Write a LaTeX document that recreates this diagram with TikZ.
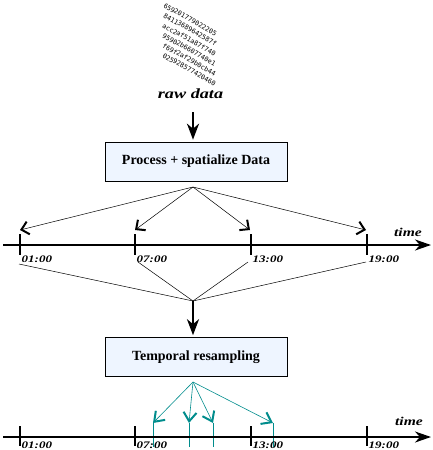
\documentclass[tikz,border=0pt]{standalone}
\usepackage{fontspec}
\setmainfont{Liberation Serif}
\newfontfamily\digitfont{DejaVu Sans Mono}
\usetikzlibrary{arrows.meta}
\definecolor{tealc}{RGB}{0,140,140}
\definecolor{boxfill}{RGB}{238,245,255}
\tikzset{
  procbox/.style={draw, fill=boxfill, line width=0.6pt, minimum width=182pt, minimum height=39pt, inner sep=0pt, font=\fontsize{14}{16}\selectfont\bfseries},
  fanline/.style={line width=0.5pt, -{Straight Barb[length=7pt,width=13pt,line width=2pt]}},
  bigarrow/.style={line width=2.4pt, -{Stealth[length=16pt,width=12pt,inset=5pt]}},
  axisline/.style={line width=2pt, -{Stealth[length=16pt,width=11pt,inset=5pt]}},
  tickline/.style={line width=2pt},
  convline/.style={line width=0.5pt},
  ticklbl/.style={anchor=north west, inner sep=0pt, font=\fontsize{10}{10}\selectfont\bfseries\itshape},
  timelbl/.style={inner sep=0pt, font=\fontsize{12}{12}\selectfont\bfseries\itshape},
  digitrow/.style={rotate=-29, anchor=west, inner sep=0pt, font=\digitfont\fontsize{6.6}{6.6}\selectfont},
  tealarrow/.style={tealc, line width=0.6pt, -{Straight Barb[length=9pt,width=13pt,line width=2pt]}},
  tealline/.style={tealc, line width=0.8pt}
}
\newcommand{\wide}[1]{\scalebox{1.3}[1]{#1}}
\begin{document}
\begin{tikzpicture}[x=1pt,y=-1pt]
\useasboundingbox (0,0) rectangle (432,450);
% raw digits
\node[digitrow] (d1) at (164,5) {659201779022205};
\node[digitrow] (d2) at (164,15) {84113689642587f};
\node[digitrow] (d3) at (163,25) {acc2af51a87f740};
\node[digitrow] (d4) at (163,35) {95902b6607740e1};
\node[digitrow] (d5) at (163,45) {f69f2af29b0cb44};
\node[digitrow] (d6) at (163,55) {025928577420460};
% raw data label
\node[anchor=base, inner sep=0pt, font=\fontsize{14}{14}\selectfont\bfseries\itshape] (raw) at (190.5,98) {\wide{raw data}};
% boxes
\node[procbox] (proc) at (196,161.5) {Process + spatialize Data};
\node[procbox] (resamp) at (196,357) {Temporal resampling};
\draw[bigarrow] ([xshift=2.5pt,yshift=-14pt]raw.base) -- ([xshift=-3pt,yshift=2pt]proc.north);
% fan-out
\coordinate (f1) at (193,187);
\coordinate (a1) at (20,230);
\coordinate (a2) at (135,230);
\coordinate (a3) at (250,230);
\coordinate (a4) at (366,230);
\foreach \t in {a1,a2,a3,a4} \draw[fanline] (f1) -- (\t);
% timeline 1
\coordinate (t1s) at (3,245);
\coordinate (t1e) at (431,245);
\draw[axisline] (t1s) -- (t1e);
\node[timelbl] (time1) at (408,232) {\wide{time}};
\foreach \x/\lab/\nm in {20/01:00/p1,135/07:00/p2,251/13:00/p3,367/19:00/p4}{
  \coordinate (\nm top) at (\x,234);
  \coordinate (\nm bot) at (\x,255);
  \draw[tickline] (\nm top) -- (\nm bot);
  \node[ticklbl] (\nm lbl) at (\x+1.5,256) {\wide{\lab}};
}
% convergence
\coordinate (c0) at (193,301);
\coordinate (c1) at (19,264);
\coordinate (c2) at (138,262);
\coordinate (c3) at (248,262);
\coordinate (c4) at (366,262);
\foreach \t in {c1,c2,c3,c4} \draw[convline] (\t) -- (c0);
\draw[bigarrow] (c0) -- ([xshift=-3pt,yshift=2pt]resamp.north);
% teal fan
\coordinate (g0) at (193,382);
\foreach \x/\nm in {153/q1,189/q2,213/q3,273/q4}{
  \coordinate (\nm tip) at (\x,423);
  \coordinate (\nm bot) at (\x,447);
  \draw[tealarrow] (g0) -- (\nm tip);
  \draw[tealline] (\nm tip) -- (\nm bot);
}
% timeline 2
\coordinate (t2s) at (3,437);
\coordinate (t2e) at (431,437);
\draw[axisline] (t2s) -- (t2e);
\node[timelbl] (time2) at (409,421) {\wide{time}};
\foreach \x/\lab/\nm in {20/01:00/r1,135/07:00/r2,251/13:00/r3,367/19:00/r4}{
  \coordinate (\nm top) at (\x,426);
  \coordinate (\nm bot) at (\x,446);
  \draw[tickline] (\nm top) -- (\nm bot);
  \node[ticklbl] (\nm lbl) at (\x+1.5,442) {\wide{\lab}};
}
\end{tikzpicture}
\end{document}
